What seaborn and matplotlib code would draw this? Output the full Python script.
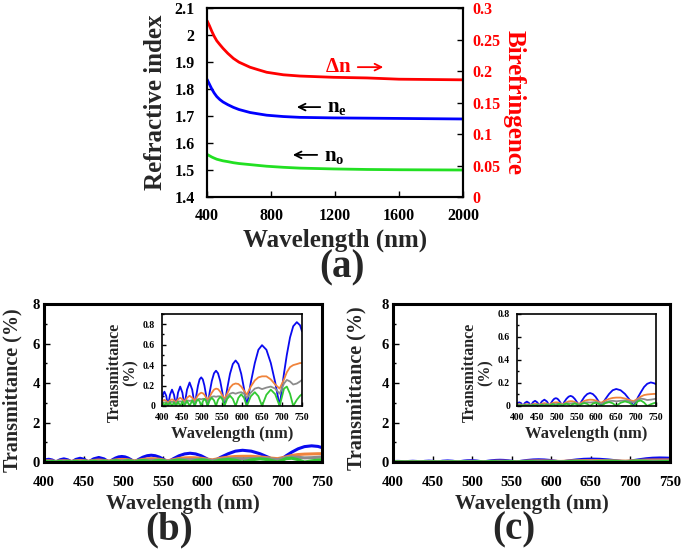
import numpy as np
import pandas as pd
import seaborn as sns
import matplotlib.pyplot as plt
from matplotlib.ticker import MultipleLocator, FuncFormatter

# (a) refractive indices and birefringence
wl_a = [400, 415, 430, 445, 461, 480, 500, 530, 565, 600, 669, 720, 773, 877, 981, 1190, 1400, 1600, 2000]
n_e = [1.836, 1.818, 1.800, 1.785, 1.772, 1.761, 1.752, 1.742, 1.732, 1.724, 1.713, 1.708, 1.703,
       1.698, 1.695, 1.693, 1.692, 1.691, 1.689]
n_o = [1.558, 1.553, 1.548, 1.544, 1.540, 1.537, 1.534, 1.531, 1.527, 1.524, 1.520, 1.517, 1.514,
       1.510, 1.507, 1.504, 1.502, 1.501, 1.500]
delta_n = [0.280, 0.272, 0.263, 0.255, 0.248, 0.242, 0.236, 0.228, 0.220, 0.214, 0.206, 0.202, 0.198,
           0.194, 0.192, 0.190, 0.189, 0.187, 0.186]

# (b) and (c) transmittance, same wavelength samples
wl_t = [400, 403, 406, 410.5, 415,
        420, 425, 430, 435,
        440, 445.5, 451, 456,
        462.5, 469, 475.5, 482,
        486, 490, 494, 498, 502, 506, 510, 514,
        519, 524.5, 530, 535, 540, 545.5, 551, 556,
        563, 570, 577, 584, 591, 598, 605, 612,
        622, 632, 641, 650, 661, 672, 683, 694,
        705, 712, 720, 728, 737, 745, 750]

b_blue = [0.07, 0.12, 0.14, 0.10, 0.0,
          0.11, 0.16, 0.11, 0.0,
          0.13, 0.19, 0.13, 0.0,
          0.16, 0.23, 0.16, 0.0,
          0.11, 0.20, 0.26, 0.28, 0.26, 0.20, 0.11, 0.0,
          0.13, 0.245, 0.32, 0.345, 0.32, 0.245, 0.13, 0.0,
          0.17, 0.315, 0.41, 0.445, 0.41, 0.315, 0.17, 0.0,
          0.23, 0.42, 0.55, 0.595, 0.55, 0.42, 0.23, 0.0,
          0.32, 0.50, 0.67, 0.78, 0.82, 0.79, 0.73]
b_orange = [0.045, 0.055, 0.06, 0.05, 0.03,
            0.055, 0.065, 0.055, 0.035,
            0.065, 0.08, 0.065, 0.04,
            0.08, 0.10, 0.08, 0.05,
            0.08, 0.105, 0.12, 0.13, 0.125, 0.11, 0.085, 0.06,
            0.09, 0.13, 0.16, 0.17, 0.165, 0.14, 0.10, 0.07,
            0.12, 0.18, 0.21, 0.22, 0.215, 0.19, 0.15, 0.11,
            0.19, 0.25, 0.28, 0.29, 0.29, 0.26, 0.21, 0.17,
            0.26, 0.33, 0.38, 0.40, 0.41, 0.42, 0.42]
b_gray = [0.03, 0.035, 0.035, 0.035, 0.02,
          0.04, 0.04, 0.04, 0.025,
          0.045, 0.045, 0.045, 0.03,
          0.055, 0.05, 0.055, 0.035,
          0.05, 0.065, 0.07, 0.065, 0.07, 0.07, 0.06, 0.04,
          0.07, 0.09, 0.095, 0.09, 0.095, 0.095, 0.08, 0.05,
          0.09, 0.12, 0.13, 0.12, 0.13, 0.135, 0.12, 0.08,
          0.13, 0.17, 0.18, 0.165, 0.18, 0.19, 0.17, 0.12,
          0.22, 0.255, 0.24, 0.21, 0.22, 0.24, 0.255]
b_green = [0.02, 0.03, 0.0, 0.03, 0.0,
           0.035, 0.0, 0.035, 0.0,
           0.04, 0.0, 0.045, 0.0,
           0.05, 0.0, 0.055, 0.0,
           0.045, 0.065, 0.045, 0.0, 0.045, 0.07, 0.05, 0.0,
           0.055, 0.08, 0.055, 0.0, 0.06, 0.09, 0.065, 0.0,
           0.07, 0.10, 0.07, 0.0, 0.08, 0.115, 0.08, 0.0,
           0.095, 0.135, 0.095, 0.0, 0.11, 0.16, 0.115, 0.0,
           0.17, 0.19, 0.12, 0.0, 0.06, 0.10, 0.115]

c_blue = [0.018, 0.028, 0.032, 0.024, 0.0,
          0.027, 0.038, 0.027, 0.0,
          0.032, 0.045, 0.032, 0.0,
          0.039, 0.055, 0.039, 0.0,
          0.026, 0.048, 0.063, 0.068, 0.063, 0.048, 0.026, 0.0,
          0.034, 0.062, 0.081, 0.088, 0.081, 0.062, 0.034, 0.0,
          0.043, 0.08, 0.104, 0.113, 0.104, 0.08, 0.043, 0.0,
          0.057, 0.105, 0.137, 0.148, 0.137, 0.105, 0.057, 0.0,
          0.078, 0.12, 0.165, 0.193, 0.205, 0.198, 0.19]
c_orange = [0.011, 0.014, 0.015, 0.012, 0.008,
            0.014, 0.016, 0.014, 0.009,
            0.016, 0.02, 0.016, 0.01,
            0.02, 0.025, 0.02, 0.012,
            0.02, 0.026, 0.03, 0.032, 0.031, 0.027, 0.021, 0.015,
            0.022, 0.032, 0.04, 0.042, 0.041, 0.035, 0.025, 0.018,
            0.03, 0.045, 0.052, 0.055, 0.054, 0.048, 0.038, 0.028,
            0.048, 0.062, 0.07, 0.073, 0.073, 0.065, 0.052, 0.042,
            0.065, 0.082, 0.095, 0.1, 0.103, 0.105, 0.105]
c_gray = [0.008, 0.009, 0.009, 0.009, 0.005,
          0.01, 0.01, 0.01, 0.006,
          0.011, 0.011, 0.011, 0.008,
          0.014, 0.012, 0.014, 0.009,
          0.012, 0.016, 0.018, 0.016, 0.018, 0.018, 0.015, 0.01,
          0.018, 0.022, 0.024, 0.022, 0.024, 0.024, 0.02, 0.012,
          0.022, 0.03, 0.032, 0.03, 0.032, 0.034, 0.03, 0.02,
          0.032, 0.042, 0.045, 0.041, 0.045, 0.048, 0.042, 0.03,
          0.055, 0.064, 0.06, 0.052, 0.055, 0.06, 0.064]
c_green = [0.005, 0.008, 0.0, 0.008, 0.0,
           0.009, 0.0, 0.009, 0.0,
           0.01, 0.0, 0.011, 0.0,
           0.012, 0.0, 0.014, 0.0,
           0.011, 0.016, 0.011, 0.0, 0.011, 0.018, 0.012, 0.0,
           0.014, 0.02, 0.014, 0.0, 0.015, 0.022, 0.016, 0.0,
           0.018, 0.025, 0.018, 0.0, 0.02, 0.029, 0.02, 0.0,
           0.024, 0.034, 0.024, 0.0, 0.028, 0.04, 0.029, 0.0,
           0.042, 0.048, 0.03, 0.0, 0.015, 0.025, 0.029]

t_colors = ['#0A0AF0', '#F0843C', '#8C8C8C', '#33C833']

sns.set_theme(style="ticks")
plt.rcParams['font.family'] = ['Liberation Serif', 'DejaVu Serif']
plt.rcParams['font.weight'] = 'bold'
plt.rcParams['axes.labelweight'] = 'bold'
plt.rcParams['mathtext.fontset'] = 'custom'
plt.rcParams['mathtext.bf'] = 'Liberation Serif:bold'
plt.rcParams['mathtext.rm'] = 'Liberation Serif:bold'
plt.rcParams['mathtext.it'] = 'Liberation Serif:bold'

fmt = FuncFormatter(lambda v, p: f"{round(v, 2):g}")


def style_axes(ax, spine_w, labelsize, xpad, ypad, length=4):
    for s in ax.spines.values():
        s.set_linewidth(spine_w)
        s.set_color('black')
        s.set_visible(True)
    ax.tick_params(which='both', direction='in', colors='black', labelsize=labelsize, width=1.0)
    ax.tick_params(axis='x', pad=xpad)
    ax.tick_params(axis='y', pad=ypad)
    ax.tick_params(which='major', length=length)
    ax.tick_params(which='minor', length=length * 0.6)
    for lab in ax.get_xticklabels() + ax.get_yticklabels():
        lab.set_fontweight('bold')


fig = plt.figure(figsize=(6.85, 5.52), dpi=100)

# ---- (a)
ax = fig.add_axes([0.3022, 0.6431, 0.3737, 0.3424])
sns.lineplot(x=wl_a, y=n_e, color='#0000FF', lw=2, ax=ax)
sns.lineplot(x=wl_a, y=n_o, color='#22E022', lw=2, ax=ax)
ax.set_xlim(400, 2000)
ax.set_ylim(1.4, 2.1)
ax.set_xticks([400, 800, 1200, 1600, 2000])
ax.yaxis.set_major_locator(MultipleLocator(0.1))
ax.yaxis.set_major_formatter(fmt)
ax.set_xlabel('Wavelength (nm)', fontsize=18, labelpad=3)
ax.set_ylabel('Refractive index', fontsize=18, labelpad=5)
style_axes(ax, 1.5, 11.5, 8, 9)

ax2 = ax.twinx()
sns.lineplot(x=wl_a, y=delta_n, color='#FF0000', lw=2, ax=ax2)
ax2.set_ylim(0, 0.3)
ax2.yaxis.set_major_locator(MultipleLocator(0.05))
ax2.yaxis.set_major_formatter(fmt)
ax2.set_ylabel('Birefringence', fontsize=18, color='#FF0000', rotation=270, labelpad=18)
style_axes(ax2, 1.5, 11.5, 8, 7)
ax2.tick_params(axis='y', labelcolor='#FF0000')

ax.text(1137, 1.863, r'$\mathbf{\Delta n}$', color='#FF0000', fontsize=15, ha='left', va='baseline')
ax.annotate('', xy=(1519, 1.881), xytext=(1325, 1.881),
            arrowprops=dict(arrowstyle='->', color='#FF0000', lw=1.3))
ax.text(1150, 1.715, r'$\mathbf{n_e}$', color='black', fontsize=15, ha='left', va='baseline')
ax.annotate('', xy=(944, 1.733), xytext=(1125, 1.733),
            arrowprops=dict(arrowstyle='->', color='black', lw=1.3))
ax.text(1131, 1.533, r'$\mathbf{n_o}$', color='black', fontsize=15, ha='left', va='baseline')
ax.annotate('', xy=(919, 1.556), xytext=(1106, 1.556),
            arrowprops=dict(arrowstyle='->', color='black', lw=1.3))


# ---- (b) and (c)
def trans_panel(rect, inset_rect, series, inset_top, ylab_x, ylab_y):
    axm = fig.add_axes(rect)
    for vals, col in zip(series, t_colors):
        sns.lineplot(x=wl_t, y=vals, color=col, lw=2.2, ax=axm)
    axm.set_xlim(400, 750)
    axm.set_ylim(0, 8)
    axm.set_xticks(range(400, 751, 50))
    axm.yaxis.set_major_locator(MultipleLocator(2))
    axm.yaxis.set_minor_locator(MultipleLocator(1))
    axm.set_xlabel('Wavelength (nm)', fontsize=15, labelpad=4)
    axm.set_ylabel('Transmittance (%)', fontsize=14.5)
    axm.yaxis.set_label_coords(ylab_x, ylab_y)
    style_axes(axm, 2.2, 10.5, 10, 3)

    axi = fig.add_axes(inset_rect)
    axi.set_facecolor('white')
    for vals, col in zip(series, t_colors):
        sns.lineplot(x=wl_t, y=vals, color=col, lw=1.3, ax=axi)
    axi.set_xlim(400, 750)
    axi.set_ylim(0, inset_top)
    axi.set_xticks(range(400, 751, 50))
    axi.yaxis.set_major_locator(MultipleLocator(0.2))
    axi.yaxis.set_minor_locator(MultipleLocator(0.1))
    axi.yaxis.set_major_formatter(fmt)
    axi.set_xlabel('Wavelength (nm)', fontsize=12, labelpad=3)
    axi.set_ylabel('Transmittance\n(%)', fontsize=11.5, linespacing=0.95)
    axi.yaxis.set_label_coords(-0.17, 0.36)
    style_axes(axi, 1.2, 7, 5, 5, length=3)
    return axm, axi


trans_panel([0.0642, 0.1630, 0.4058, 0.2862], [0.2365, 0.2645, 0.2044, 0.1667],
            [b_blue, b_orange, b_gray, b_green], 0.9, -0.078, 0.456)
trans_panel([0.5737, 0.1630, 0.4044, 0.2862], [0.7547, 0.2645, 0.2029, 0.1667],
            [c_blue, c_orange, c_gray, c_green], 0.8, -0.094, 0.468)

fig.text(0.499, 0.5145, '(a)', ha='center', va='center', fontsize=28, fontweight='bold')
fig.text(0.247, 0.040, '(b)', ha='center', va='center', fontsize=28, fontweight='bold')
fig.text(0.750, 0.040, '(c)', ha='center', va='center', fontsize=28, fontweight='bold')

fig.savefig('out.png', dpi=100, facecolor='white')
